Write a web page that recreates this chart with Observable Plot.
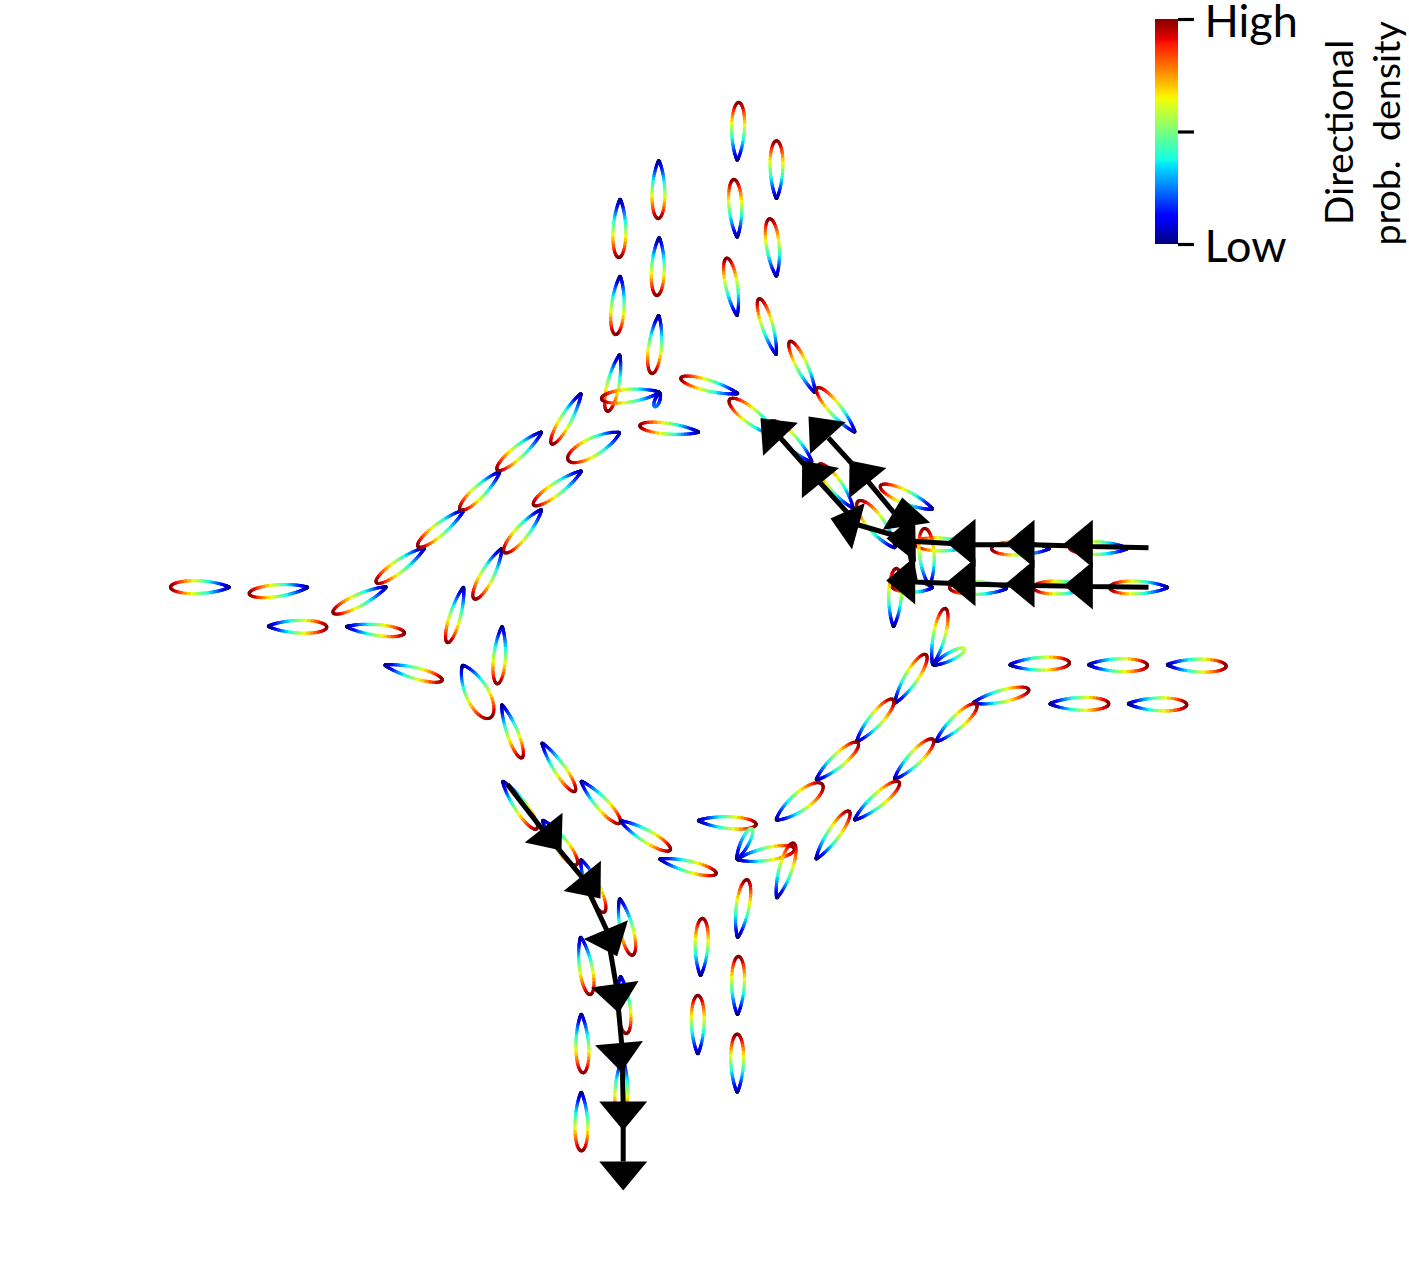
<!DOCTYPE html>
<html>
<head>
<meta charset="utf-8">
<style>html,body{margin:0;padding:0;background:#fff}svg{display:block}</style>
<script src="https://cdn.jsdelivr.net/npm/d3@7"></script>
<script src="https://cdn.jsdelivr.net/npm/@observablehq/plot@0.6"></script>
</head>
<body>
<div id="chart"></div>
<script>
// Petals: blue tip x, y, red tip x, y, width, peak density (1 = top of the colour scale)
const petals = [
  [736.7,160.7,738.3,101,13,1],[776,199,776,139.3,13,1],[736.7,237.7,733.3,178,13,1],[776,276.7,769,217.3,13,1],
  [736.7,316,726,256.7,12,1],[776,355,758.3,297.3,11,1],[815,393,789,340,11,1],[855,432.3,816,386.7,12,1],
  [658.3,159,657.7,219,13,1],[619.7,197.7,618.3,258,13,1],[658.7,236,656.3,296,13,1],[619.7,274.7,615,335,13,1],
  [658.3,314,651.3,374,13,1],[619.3,353.3,606.7,411.7,12,1],[660,391.7,600,398.3,13,1],[660,391.7,654,407,5,0.25],
  [699.3,431.7,638.3,425,11,1],[738.3,393.3,679.3,377.3,11,1],[777,436,728.3,398.3,15,1],[812,462,770,420,13,1],
  [853,508,818,463,13,1],[895,548,857,500,17,1],[933,509,879,485,13,1],[973,545,913,543,13,1],
  [1050,548,990,548,13,1],[1128,548,1068,547,13,1],[1168,587,1108,587,13,1],[1090,587,1032,587,13,1],
  [1007,588,948,587,13,1],[933,587,890,585,12,1],[929,586,924,527,15,1],[893,627,896,567,13,1],
  [932,665,945,607,12,1],[932.3,665,965,648,8,0.6],
  [1008.3,664.3,1070,662.3,13,1],[1087,664.3,1148,665,13,1],[1165.7,664.3,1226.7,665.7,13,1],
  [1048.3,703.3,1109.3,703.3,13,1],[1126.7,703.3,1187.3,704.3,13,1],[971.7,702.7,1029.3,689,12,1],
  [935,741.7,976.7,703.3,13,1],[893.3,779.3,933.3,738.3,13,1],[853.3,820,899.3,781,13,1],[815,859.3,849.3,810,12,1],
  [894,703.3,926,653.3,13,1],[855.7,741.7,893.3,698.3,13,1],[815,780,858.3,741.7,13,1],[775,820,822.7,783.3,18,1],
  [696.7,820,756.7,824,12,1],[736,859.3,751.7,827.3,8,0.5],[736,859.3,795,848.3,13,1],[776,898.3,793.3,841.7,13,1],
  [737,938,746.7,878.3,13,1],[700,976,702,917,13,1],[737,1015,738,955,13,1],[697.3,1054.3,697.3,994,13,1],
  [736.7,1092.7,736.7,1032.7,13,1],[580.7,1012.7,582.7,1073.3,13,1],[580.7,1090.7,581,1151.3,13,1],[620,975,626,1034,13,1],
  [622,1058,620,1118,13,1],[580,935.7,590,995,13,1],[619,897.3,632.3,955.7,13,1],[580,858.3,604,912.7,13,1],
  [541.7,819,576.7,865,13,1],[501.7,780,536.7,829.3,12,1],[580,780,620,823.3,12,1],[619.3,820,670.7,850,12,1],
  [658.3,858.3,716.7,873.3,11,1],[541,741.7,575,791.7,11,1],[501,703.3,521.7,758.3,11,1],[501.7,625,496.7,684.3,12,1],
  [461.7,664,490,718.3,23,1],[383.3,664.3,442.7,680,11,1],[345,626,405,632.7,11,1],[266.7,625.7,327.3,626.7,13,1],
  [308.3,586.7,247.7,593.3,12,1],[230,586.7,169,586.7,13,1],[386.7,586,331.7,612.7,12,1],[425,546.7,375,582.7,12,1],
  [464,509,416.7,546.7,12,1],[500,470.7,459,510,12,1],[541.7,431,496,470,12,1],[463.3,585.7,446.7,643,11,1],
  [501.7,547.3,473.3,599.3,13,1],[541.7,508.3,503.3,552.7,13,1],[581.7,470,532.3,505,12,1],[620,431.7,566.7,460,18,1],
  [581,392.3,550.7,444.3,11,1]
];

// Arrow paths: the line runs through the base centre of each arrowhead
const pathSouth = [[507,784],[543.5,831],[581.3,876.3],[606.2,929.5],[616,986.6],[621.3,1044.8],[622.7,1103.3],[622.7,1161]];
const pathWestUpper = [[1148,547.3],[1091,546],[1033,544.3],[973,544.3],[915,541],[858,524.5],[819.5,482],[780,437.5]];
const pathWestLower = [[1148,586.7],[1091,586],[1033,585],[973,583.7],[915,581.5],[904,525],[867,480.3],[827.8,437.2]];

// Arrowheads: tip x, y, heading in degrees clockwise from up
const heads = [
  [561,850,142],[600,898,141],[616.7,955.7,157],[618.3,1012.5,172],[621,1071.5,175],[622.7,1130,180],[622.7,1190,180],
  [1063.3,543.3,-90],[1005,543.3,-90],[946,542.3,-90],[886,538,-91],[830,518,-74.5],[801.7,460,-39],[760,417.7,-43.6],
  [1063.3,585,-90],[1005,583.3,-90],[946,581.7,-90],[885.7,580,-90],[901.7,497,-8.5],[849,460,-39],[808,416,-42]
];

// Colour scale stops
const jetStops = [0,.11,.125,.34,.35,.375,.64,.65,.66,.89,.91,1];
const jetColors = ["rgb(0,0,127)","rgb(0,0,255)","rgb(0,0,255)","rgb(0,219,255)","rgb(0,230,247)","rgb(20,255,226)",
  "rgb(239,255,8)","rgb(247,246,0)","rgb(255,236,0)","rgb(255,19,0)","rgb(232,0,0)","rgb(127,0,0)"];

// Colour bar
const barLeft = 1155, barRight = 1178, barTop = 19, barBottom = 244, tickEnd = 1194;
const barTicks = [0, 0.5, 1];
const barLevels = d3.range(0, 1, 1 / 225);
const barY = t => barBottom - Math.min(1, t) * (barBottom - barTop);

const headHeight = 29, headHalfBase = 24, petalInset = 1;
const headSymbol = {
  draw(ctx, size) {
    const k = Math.sqrt(size / Math.PI);
    ctx.moveTo(0, 0);
    ctx.lineTo(headHalfBase * k, headHeight * k);
    ctx.lineTo(-headHalfBase * k, headHeight * k);
    ctx.closePath();
  }
};

// Each petal is a polar lobe around its blue tip; colour follows the radius.
const outline = [];
petals.forEach(([bx, by, rx, ry, w, peak], id) => {
  const dx = rx - bx, dy = ry - by, full = Math.hypot(dx, dy);
  const ux = dx / full, uy = dy / full;
  const x0 = bx + ux * petalInset, y0 = by + uy * petalInset;
  const L = full - 2 * petalInset, phi = Math.atan2(uy, ux);
  const s = w / (1.213 * L);
  const n = 60;
  for (let i = 0; i <= n; ++i) {
    const th = s * 3.2 * (2 * i / n - 1);
    const r = L * Math.exp(-th * th / (2 * s * s));
    outline.push({id, x: x0 + r * Math.cos(phi + th), y: y0 + r * Math.sin(phi + th), t: peak * r / L});
  }
});

const toLine = p => p.map(([x, y]) => ({x, y}));

const plot = Plot.plot({
  width: 1409, height: 1281,
  marginTop: 0, marginRight: 0, marginBottom: 0, marginLeft: 0,
  x: {domain: [0, 1409], axis: null},
  y: {domain: [1281, 0], axis: null},
  color: {type: "linear", domain: jetStops, range: jetColors, interpolate: "rgb"},
  style: {background: "#fff"},
  marks: [
    Plot.line(outline, {x: "x", y: "y", z: "id", stroke: "t", strokeWidth: 3.2, strokeLinecap: "round", strokeLinejoin: "round"}),
    ...[pathSouth, pathWestUpper, pathWestLower].map(p =>
      Plot.line(toLine(p), {x: "x", y: "y", stroke: "#000", strokeWidth: 5, strokeLinecap: "butt", strokeLinejoin: "miter"})),
    Plot.dot(heads, {x: d => d[0], y: d => d[1], rotate: d => d[2], r: 1, symbol: headSymbol, fill: "#000"}),
    Plot.rect(barLevels, {x1: barLeft, x2: barRight, y1: d => barY(d), y2: d => barY(d + 1.6 / 225), fill: d => d, shapeRendering: "crispEdges"}),
    Plot.ruleY(barTicks, {x1: barRight, x2: tickEnd, y: barY, stroke: "#000", strokeWidth: 3.2}),
    Plot.text(["High"], {x: 1204, y: 36.7, text: d => d, textAnchor: "start", lineAnchor: "bottom", fontSize: 45, fontFamily: "Lato", fill: "#000"}),
    Plot.text(["Low"], {x: 1204, y: 261, text: d => d, textAnchor: "start", lineAnchor: "bottom", fontSize: 45, fontFamily: "Lato", fill: "#000"}),
    Plot.text(["Directional"], {x: 1352, y: 224.5, text: d => d, rotate: -90, textAnchor: "start", lineAnchor: "bottom", fontSize: 38.5, fontFamily: "Lato", fill: "#000"}),
    Plot.text(["prob. \u00A0density"], {x: 1399, y: 245, text: d => d, rotate: -90, textAnchor: "start", lineAnchor: "bottom", fontSize: 37.6, fontFamily: "Lato", fill: "#000"})
  ]
});
document.getElementById("chart").appendChild(plot);
</script>
</body>
</html>
